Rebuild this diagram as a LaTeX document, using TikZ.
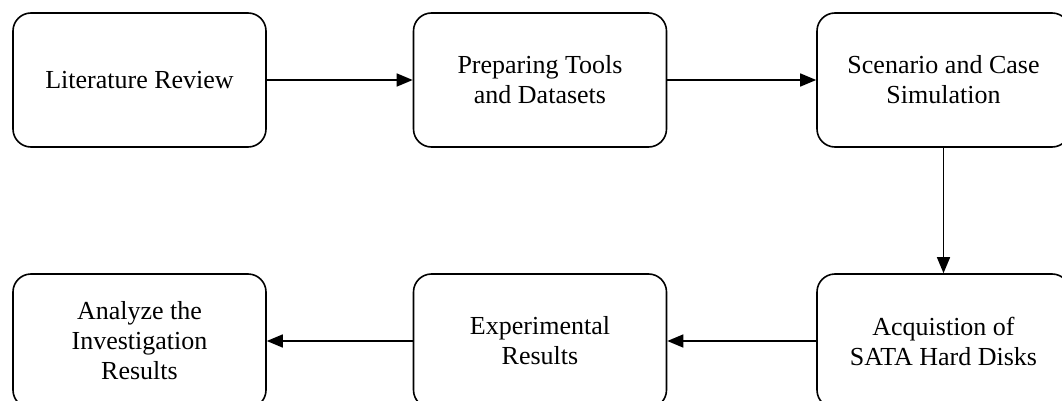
\documentclass[tikz,border=0pt]{standalone}
\usepackage{fontspec}
\setmainfont{Liberation Serif}
\usetikzlibrary{arrows.meta}
\begin{document}
\begin{tikzpicture}[
    x=1pt, y=-1pt,
    box/.style={draw, line width=1.6pt, rounded corners=18pt, minimum width=253pt, minimum height=134pt, align=center, font=\fontsize{26}{30}\selectfont},
    arrow/.style={-{Triangle[length=16pt,width=13pt]}, line width=1.5pt}
]
    \clip (0,0) rectangle (1062,401);
    % top row
    \node[box] (review) at (139.5,80) {Literature Review};
    \node[box] (tools) at (540,80) {Preparing Tools\\and Datasets};
    \node[box] (scenario) at (943.5,80) {Scenario and Case\\Simulation};
    % bottom row
    \node[box] (acquisition) at (943.5,341) {Acquistion of\\SATA Hard Disks};
    \node[box] (experiment) at (540,341) {Experimental\\Results};
    \node[box] (analyze) at (139.5,341) {Analyze the\\Investigation\\Results};
    % flow
    \draw[arrow] (review) -- (tools);
    \draw[arrow] (tools) -- (scenario);
    \draw[arrow] (scenario) -- (acquisition);
    \draw[arrow] (acquisition) -- (experiment);
    \draw[arrow] (experiment) -- (analyze);
\end{tikzpicture}
\end{document}
